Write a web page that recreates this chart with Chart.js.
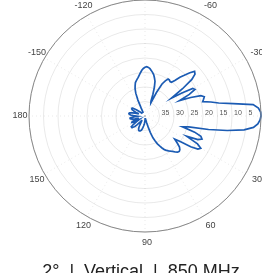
<!DOCTYPE html>
<html>
<head>
<meta charset="utf-8">
<script src="https://cdn.jsdelivr.net/npm/chart.js@4.4.1/dist/chart.umd.min.js"></script>
<style>
  html, body { margin: 0; padding: 0; background: #fff; overflow: hidden; }
  #wrap { position: relative; width: 262px; height: 273px; overflow: hidden; }
  #caption {
    position: absolute; left: 10px; width: 262px; top: 261px;
    text-align: center; font-family: "Liberation Sans", Arial, sans-serif;
    font-size: 18px; color: #222; white-space: pre;
  }
</style>
</head>
<body>
<div id="wrap">
  <canvas id="polar" width="262" height="273"></canvas>
  <div id="caption">2°  |  Vertical  |  850 MHz</div>
</div>
<script>
// angle of each sample, degrees (0 = right, clockwise)
const angles = [];
for (let a = 0; a < 360; a += 2) angles.push(a);

// attenuation in dB below peak, every 2 degrees
const attenuation = [
  0, 0.3, 1.0, 2.4, 5.5, 11.2, 17.6, 24.5, 26.5, 22,          // 0..18
  19.5, 18.8, 20, 24, 19.5, 17.8, 18.5, 21, 25, 27,           // 20..38
  25.5, 24, 23.3, 23, 23.2, 23.8, 24.5, 25, 25.5, 26,         // 40..58
  26.6, 27.5, 28.5, 29.5, 30.8, 32, 34, 36, 37.5, 38.5,       // 60..78
  39, 39, 39, 39, 39, 38.5, 38, 37.5, 37, 36.5,               // 80..98
  36, 35.5, 35, 34.8, 34.6, 34.5, 34.5, 34.6, 35, 35.5,       // 100..118
  36.5, 37.5, 38, 38, 37.5, 37, 36, 35, 34.5, 34,             // 120..138
  34, 34, 35, 36.5, 37.5, 36.5, 35.5, 35, 35.2, 36.5,         // 140..158
  37.5, 37.5, 36.5, 35.5, 35, 34.8, 34.8, 35.5, 36.5, 37.5,   // 160..178
  37, 36, 35, 34.6, 34.4, 34.4, 34.6, 35.5, 36.5, 37.5,       // 180..-162
  37.5, 36.5, 35.8, 35.2, 34.8, 34.8, 34.8, 35.5, 36.5, 37.5, // -160..-142
  38, 38.5, 38.5, 38.5, 38.5, 38.5, 38.5, 38.5, 38.5, 38.5,   // -140..-122
  38.5, 38.5, 37, 34, 31.5, 30, 29, 28, 27.5, 27,             // -120..-102
  26.5, 25.8, 25, 24.2, 23.6, 23.2, 23, 23.2, 23.6, 24.2,     // -100..-82
  24.8, 25.5, 26.5, 27.5, 29.5, 32, 34.5, 35, 31, 27.5,       // -80..-62
  26, 25, 25, 25.3, 25.2, 24, 22, 20.5, 18.5, 17,             // -60..-42
  17.5, 19.5, 24, 29, 25, 21, 20.5, 23, 27, 23,               // -40..-22
  19.5, 18.5, 19, 19.5, 16.8, 14.2, 9.3, 2.5, 0.8, 0.1        // -20..-2
];

// labels
const angleTicks = [0, 30, 60, 90, 120, 150, 180, -150, -120, -90, -60, -30];
const ringTicks = [35, 30, 25, 20, 15, 10, 5];

const angleName = a => String(a > 180 ? a - 360 : a);

// extra drawing: outer rim, angle labels, ring labels
const decorations = {
  id: 'decorations',
  afterDatasetsDraw(chart) {
    const r = chart.scales.r;
    const ctx = chart.ctx;
    ctx.save();
    ctx.strokeStyle = '#888';
    ctx.lineWidth = 1;
    ctx.beginPath();
    ctx.arc(r.xCenter, r.yCenter, r.drawingArea, 0, Math.PI * 2);
    ctx.stroke();

    ctx.fillStyle = '#444';
    ctx.font = '9px "Liberation Sans", Arial, sans-serif';
    ctx.textAlign = 'center';
    ctx.textBaseline = 'middle';
    angleTicks.forEach(a => {
      const idx = angles.indexOf(((a % 360) + 360) % 360);
      const p = r.getPointPosition(idx, r.drawingArea + 11);
      ctx.fillText(String(a), p.x + 2, p.y);
    });

    ctx.font = '7px "Liberation Sans", Arial, sans-serif';
    ctx.fillStyle = '#555';
    ctx.textAlign = 'left';
    ringTicks.forEach(v => {
      const p = r.getPointPositionForValue(0, v);
      ctx.fillText(String(v), p.x + 2, p.y - 3);
    });
    ctx.restore();
  }
};

new Chart(document.getElementById('polar'), {
  type: 'radar',
  data: {
    labels: angles.map(angleName),
    datasets: [{
      data: attenuation,
      borderColor: '#1b5bb3',
      borderWidth: 1.7,
      fill: false,
      pointRadius: 0,
      tension: 0
    }]
  },
  options: {
    responsive: false,
    animation: false,
    layout: { padding: { left: 29, right: 0, top: 0, bottom: 41 } },
    plugins: { legend: { display: false }, tooltip: { enabled: false } },
    scales: {
      r: {
        min: 0,
        max: 40,
        reverse: true,
        startAngle: 90,
        ticks: { display: false, stepSize: 5, reverse: true },
        pointLabels: { display: false },
        grid: {
          circular: true,
          color: 'rgba(0,0,0,0.09)',
          borderDash: [1, 3]
        },
        angleLines: {
          color: 'rgba(0,0,0,0.09)',
          borderDash: [1, 3],
          lineWidth: ctx => (ctx.index % 15 === 0 ? 1 : 0)
        }
      }
    }
  },
  plugins: [decorations]
});
</script>
</body>
</html>
